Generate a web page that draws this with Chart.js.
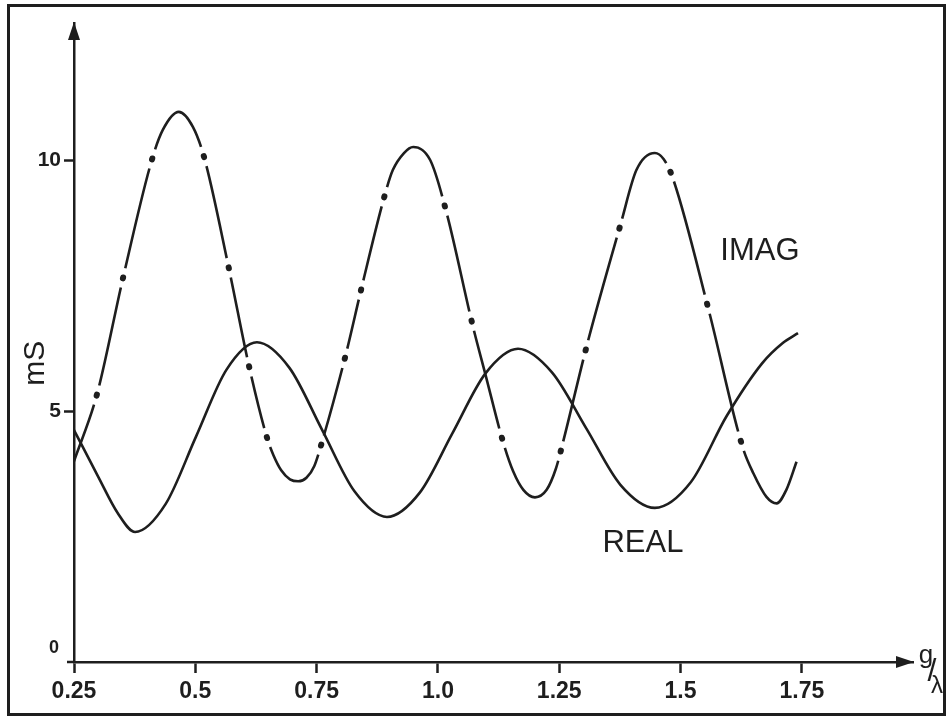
<!DOCTYPE html>
<html><head><meta charset="utf-8">
<script src="https://cdn.jsdelivr.net/npm/chart.js@4/dist/chart.umd.min.js"></script>
<style>html,body{margin:0;padding:0;background:#fff}canvas{display:block}</style>
</head><body>
<canvas id="c" width="949" height="718"></canvas>
<script>
// ---- data ----
const xTicks = [0.25, 0.5, 0.75, 1.0, 1.25, 1.5, 1.75];
const xTickLabels = ['0.25', '0.5', '0.75', '1.0', '1.25', '1.5', '1.75'];
const yTicks = [0, 5, 10];
const yTickLabels = ['0', '5', '10'];
const xAxisName = ['g', '/', 'λ'];
const yAxisName = 'mS';
const seriesNames = ['IMAG', 'REAL'];

const imagX = [0.25, 0.297, 0.351, 0.411, 0.433, 0.466, 0.495, 0.518, 0.569, 0.611, 0.648, 0.661, 0.677, 0.695, 0.712, 0.729, 0.745, 0.761, 0.81, 0.843, 0.891, 0.907, 0.93, 0.949, 0.984, 1.017, 1.072, 1.097, 1.135, 1.155, 1.176, 1.2, 1.224, 1.243, 1.257, 1.307, 1.377, 1.409, 1.447, 1.465, 1.484, 1.558, 1.628, 1.65, 1.677, 1.698, 1.718, 1.739];
const imagY = [4.00, 5.32, 7.65, 10.02, 10.60, 10.96, 10.66, 10.06, 7.85, 5.88, 4.46, 4.12, 3.82, 3.64, 3.60, 3.67, 3.90, 4.38, 6.12, 7.47, 9.32, 9.80, 10.14, 10.26, 10.00, 8.98, 6.69, 5.76, 4.36, 3.80, 3.43, 3.28, 3.43, 3.85, 4.35, 6.31, 8.74, 9.80, 10.14, 10.02, 9.64, 7.01, 4.28, 3.76, 3.29, 3.16, 3.43, 3.99];

const realX = [0.25, 0.30, 0.34, 0.376, 0.439, 0.501, 0.564, 0.627, 0.694, 0.761, 0.828, 0.895, 0.963, 1.030, 1.098, 1.165, 1.235, 1.306, 1.376, 1.447, 1.521, 1.595, 1.668, 1.71, 1.742];
const realY = [4.62, 3.69, 2.97, 2.59, 3.15, 4.48, 5.82, 6.37, 5.86, 4.63, 3.40, 2.89, 3.38, 4.56, 5.75, 6.24, 5.77, 4.65, 3.53, 3.07, 3.58, 4.90, 5.95, 6.35, 6.55];

// ---- styling ----
const INK = '#1e1e1e';
const FONT = '"Liberation Sans", Arial, sans-serif';

// dash-dot line style of the IMAG curve (hand-drawn, uneven spacing, in px along the line)
const dotSpacing = [70, 120, 122.5, 109, 114, 101, 73, 102.5, 90, 70, 96, 131, 118, 121, 126.5, 104, 126.5, 113, 137, 141];
const DOT_GAP = 20;
const dashPattern = [];
dotSpacing.forEach((d, i) => dashPattern.push(i === 0 ? d - DOT_GAP / 2 : d - DOT_GAP, DOT_GAP));
dashPattern.push(800, 0);
const dotPattern = [];
dotSpacing.slice(1).forEach(d => dotPattern.push(1, d - 1));
dotPattern.push(1, 800);
const dotTotal = dotPattern.reduce((s, v) => s + v, 0);
const dotOffset = dotTotal - (dotSpacing[0] - 0.5);

const toPts = (xs, ys) => xs.map((x, i) => ({ x: x, y: ys[i] }));

const decor = {
  id: 'decor',
  beforeDraw(chart) {
    const ctx = chart.ctx;
    ctx.save();
    ctx.fillStyle = '#fff';
    ctx.fillRect(0, 0, chart.width, chart.height);
    ctx.strokeStyle = INK;
    ctx.lineWidth = 3;
    ctx.strokeRect(8.5, 5.5, 936, 709);
    ctx.restore();
  },
  afterDraw(chart) {
    const { ctx, chartArea: a, scales } = chart;
    const xs = scales.x, ys = scales.y;
    ctx.save();
    ctx.fillStyle = INK;
    ctx.strokeStyle = INK;
    // arrow heads
    ctx.beginPath();
    ctx.moveTo(a.left, a.top - 1);
    ctx.lineTo(a.left - 6, a.top + 17);
    ctx.lineTo(a.left + 6, a.top + 17);
    ctx.closePath(); ctx.fill();
    ctx.beginPath();
    ctx.moveTo(a.right + 1, a.bottom);
    ctx.lineTo(a.right - 17, a.bottom - 6);
    ctx.lineTo(a.right - 17, a.bottom + 6);
    ctx.closePath(); ctx.fill();
    // x axis line continues a little left of the y axis
    ctx.lineWidth = 2.5;
    ctx.beginPath(); ctx.moveTo(a.left - 7, a.bottom); ctx.lineTo(a.left, a.bottom); ctx.stroke();
    // zero label sits above the x axis
    ctx.textAlign = 'center'; ctx.textBaseline = 'middle';
    ctx.font = 'bold 18px ' + FONT;
    ctx.fillText(yTickLabels[0], a.left - 20, ys.getPixelForValue(yTicks[0]) - 14);
    // y axis name
    ctx.save();
    ctx.translate(36, ys.getPixelForValue(5.95));
    ctx.rotate(-Math.PI / 2);
    ctx.font = '30px ' + FONT;
    ctx.fillText(yAxisName, 0, 0);
    ctx.restore();
    // x axis name g/λ
    ctx.font = '26px ' + FONT;
    ctx.fillText(xAxisName[0], a.right + 13, a.bottom - 6);
    ctx.font = '32px ' + FONT;
    ctx.fillText(xAxisName[1], a.right + 19, a.bottom + 10);
    ctx.font = '24px ' + FONT;
    ctx.fillText(xAxisName[2], a.right + 24, a.bottom + 24);
    // curve names
    ctx.font = '31px ' + FONT;
    ctx.fillText(seriesNames[0], xs.getPixelForValue(1.6636), ys.getPixelForValue(8.18));
    ctx.fillText(seriesNames[1], xs.getPixelForValue(1.4225), ys.getPixelForValue(2.36));
    ctx.restore();
  }
};

new Chart(document.getElementById('c'), {
  type: 'line',
  data: {
    datasets: [
      {
        label: seriesNames[1],
        data: toPts(realX, realY),
        borderColor: INK, borderWidth: 2.6,
        pointRadius: 0, cubicInterpolationMode: 'monotone', fill: false
      },
      {
        label: seriesNames[0],
        data: toPts(imagX, imagY),
        borderColor: INK, borderWidth: 2.6, borderCapStyle: 'butt',
        borderDash: dashPattern, borderDashOffset: 0,
        pointRadius: 0, cubicInterpolationMode: 'monotone', fill: false
      },
      {
        label: seriesNames[0] + ' dots',
        data: toPts(imagX, imagY),
        borderColor: INK, borderWidth: 6, borderCapStyle: 'round',
        borderDash: dotPattern, borderDashOffset: dotOffset,
        pointRadius: 0, cubicInterpolationMode: 'monotone', fill: false
      }
    ]
  },
  options: {
    responsive: false,
    animation: false,
    devicePixelRatio: 1,
    layout: { padding: { left: 0, top: 23, right: 36, bottom: 0 } },
    plugins: { legend: { display: false }, tooltip: { enabled: false } },
    scales: {
      x: {
        type: 'linear', position: 'bottom', min: 0.25, max: 1.979,
        afterBuildTicks: s => { s.ticks = xTicks.map(v => ({ value: v })); },
        afterFit: s => { s.height = 56; },
        ticks: {
          autoSkip: false, maxRotation: 0, padding: 5, color: INK,
          font: { family: FONT, size: 23, weight: 'bold' },
          callback: (v, i) => xTickLabels[i]
        },
        grid: { display: true, drawOnChartArea: false, drawTicks: true, tickLength: 11, tickWidth: 2.5, tickColor: INK, color: INK },
        border: { display: true, color: INK, width: 2.5 }
      },
      y: {
        type: 'linear', position: 'left', min: 0, max: 12.73,
        afterBuildTicks: s => { s.ticks = yTicks.map(v => ({ value: v })); },
        afterFit: s => { s.width = 74; },
        ticks: {
          autoSkip: false, padding: 3,
          color: c => (c.tick && c.tick.value === 0) ? 'rgba(0,0,0,0)' : INK,
          font: { family: FONT, size: 21, weight: 'bold' },
          callback: (v, i) => yTickLabels[i]
        },
        grid: {
          display: true, drawOnChartArea: false, drawTicks: true, tickLength: 10, tickWidth: 2.5,
          tickColor: c => (c.tick && c.tick.value === 0) ? 'rgba(0,0,0,0)' : INK, color: INK
        },
        border: { display: true, color: INK, width: 2.5 }
      }
    }
  },
  plugins: [decor]
});
</script>
</body></html>
